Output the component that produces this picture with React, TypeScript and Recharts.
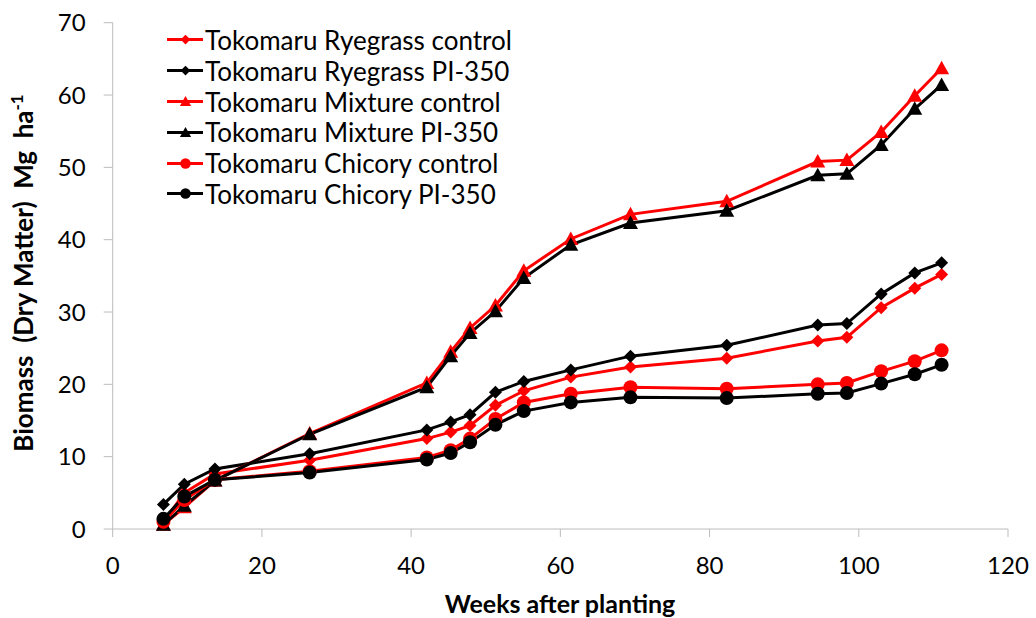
import { LineChart, Line, XAxis, YAxis } from 'recharts';

const weeks = [6.8, 9.6, 13.7, 26.4, 42.1, 45.3, 47.9, 51.3, 55.1, 61.4, 69.4, 82.3, 94.5, 98.4, 103.0, 107.5, 111.1];

const ryegrassControl = [0.9, 5.0, 7.6, 9.5, 12.5, 13.4, 14.3, 17.1, 19.1, 21.0, 22.4, 23.6, 26.0, 26.5, 30.6, 33.3, 35.2];
const ryegrassPI = [3.4, 6.2, 8.3, 10.4, 13.7, 14.8, 15.8, 18.9, 20.4, 22.0, 23.9, 25.4, 28.2, 28.4, 32.5, 35.4, 36.8];
const mixtureControl = [0.6, 3.0, 6.7, 13.2, 20.2, 24.5, 27.8, 30.9, 35.7, 40.1, 43.5, 45.3, 50.8, 51.0, 54.9, 59.9, 63.7];
const mixturePI = [0.6, 3.2, 6.7, 13.1, 19.6, 23.9, 27.1, 30.1, 34.7, 39.3, 42.3, 44.0, 48.9, 49.1, 53.1, 58.1, 61.4];
const chicoryControl = [1.0, 4.0, 6.8, 8.0, 9.9, 10.9, 12.5, 15.2, 17.5, 18.7, 19.6, 19.4, 20.0, 20.2, 21.8, 23.2, 24.7];
const chicoryPI = [1.4, 4.5, 6.8, 7.8, 9.6, 10.5, 12.0, 14.4, 16.3, 17.5, 18.2, 18.1, 18.7, 18.8, 20.1, 21.4, 22.7];

const xTicks = [0, 20, 40, 60, 80, 100, 120];
const yTicks = [0, 10, 20, 30, 40, 50, 60, 70];

type Shape = 'diamond' | 'triangle' | 'circle';

const seriesList: { key: string; name: string; color: string; shape: Shape; values: number[] }[] = [
  { key: 'rc', name: 'Tokomaru Ryegrass control', color: '#ff0000', shape: 'diamond', values: ryegrassControl },
  { key: 'rp', name: 'Tokomaru Ryegrass PI-350', color: '#000000', shape: 'diamond', values: ryegrassPI },
  { key: 'mc', name: 'Tokomaru Mixture control', color: '#ff0000', shape: 'triangle', values: mixtureControl },
  { key: 'mp', name: 'Tokomaru Mixture PI-350', color: '#000000', shape: 'triangle', values: mixturePI },
  { key: 'cc', name: 'Tokomaru Chicory control', color: '#ff0000', shape: 'circle', values: chicoryControl },
  { key: 'cp', name: 'Tokomaru Chicory PI-350', color: '#000000', shape: 'circle', values: chicoryPI },
];

const rows = weeks.map((w, i) => {
  const row: Record<string, number> = { week: w };
  seriesList.forEach((s) => {
    row[s.key] = s.values[i];
  });
  return row;
});

const FONT = 'Lato, "Open Sans", sans-serif';
const AXIS_GREY = '#bcbcbc';

function Marker({ shape, cx, cy, color, scale = 1 }: { shape: Shape; cx: number; cy: number; color: string; scale?: number }) {
  if (shape === 'diamond') {
    const r = 6.5 * scale;
    return <path d={`M${cx},${cy - r}L${cx + r},${cy}L${cx},${cy + r}L${cx - r},${cy}Z`} fill={color} />;
  }
  if (shape === 'triangle') {
    const r = 7.5 * scale;
    return <path d={`M${cx},${cy - r}L${cx + r},${cy + r * 0.8}L${cx - r},${cy + r * 0.8}Z`} fill={color} />;
  }
  return <circle cx={cx} cy={cy} r={7 * scale} fill={color} />;
}

function makeDot(shape: Shape, color: string) {
  return (props: any) => {
    const { cx, cy, index } = props;
    if (cx == null || cy == null) return <g key={index} />;
    return <Marker key={index} shape={shape} cx={cx} cy={cy} color={color} />;
  };
}

// legend sits inside the plot, top-left, so it's drawn as an overlay
function ChartLegend() {
  return (
    <div style={{ position: 'absolute', left: 166, top: 24.5, fontFamily: FONT, fontSize: 26, color: '#000' }}>
      {seriesList.map((s) => (
        <div key={s.key} style={{ display: 'flex', alignItems: 'center', height: 30.8 }}>
          <svg width={39} height={31} style={{ display: 'block' }}>
            <line x1={1} y1={15.5} x2={37} y2={15.5} stroke={s.color} strokeWidth={3} />
            <Marker shape={s.shape} cx={19.5} cy={15.5} color={s.color} scale={0.75} />
          </svg>
          <span style={{ whiteSpace: 'nowrap' }}>{s.name}</span>
        </div>
      ))}
    </div>
  );
}

function YTitle() {
  return (
    <text
      x={0}
      y={0}
      transform="translate(33, 273) rotate(-90)"
      textAnchor="middle"
      fontFamily={FONT}
      fontSize={26}
      fontWeight="bold"
      fill="#000"
      style={{ whiteSpace: 'pre' }}
    >
      {'Biomass  (Dry Matter)  Mg  ha'}
      <tspan dy={-10} fontSize={17}>-1</tspan>
    </text>
  );
}

function XTitle() {
  return (
    <text x={560} y={613} textAnchor="middle" fontFamily={FONT} fontSize={25} fontWeight="bold" fill="#000">
      Weeks after planting
    </text>
  );
}

export default function App() {
  return (
    <div style={{ position: 'absolute', left: 0, top: 0, width: 1036, height: 618, background: '#fff' }}>
      <LineChart width={1036} height={618} data={rows} margin={{ top: 22.7, right: 28, bottom: 29, left: 40.7 }}>
        <XAxis
          dataKey="week"
          type="number"
          domain={[0, 120]}
          ticks={xTicks}
          stroke={AXIS_GREY}
          tickSize={8}
          tickMargin={20}
          tick={{ fill: '#000', fontSize: 24, fontFamily: FONT }}
          height={60}
          label={<XTitle />}
        />
        <YAxis
          type="number"
          domain={[0, 70]}
          ticks={yTicks}
          width={72}
          stroke={AXIS_GREY}
          tickSize={9}
          tickMargin={18}
          tick={{ fill: '#000', fontSize: 24, fontFamily: FONT }}
          label={<YTitle />}
        />
        {seriesList.map((s) => (
          <Line
            key={s.key}
            dataKey={s.key}
            name={s.name}
            stroke={s.color}
            strokeWidth={3}
            dot={makeDot(s.shape, s.color)}
            activeDot={false}
            isAnimationActive={false}
          />
        ))}
      </LineChart>
      <ChartLegend />
    </div>
  );
}
